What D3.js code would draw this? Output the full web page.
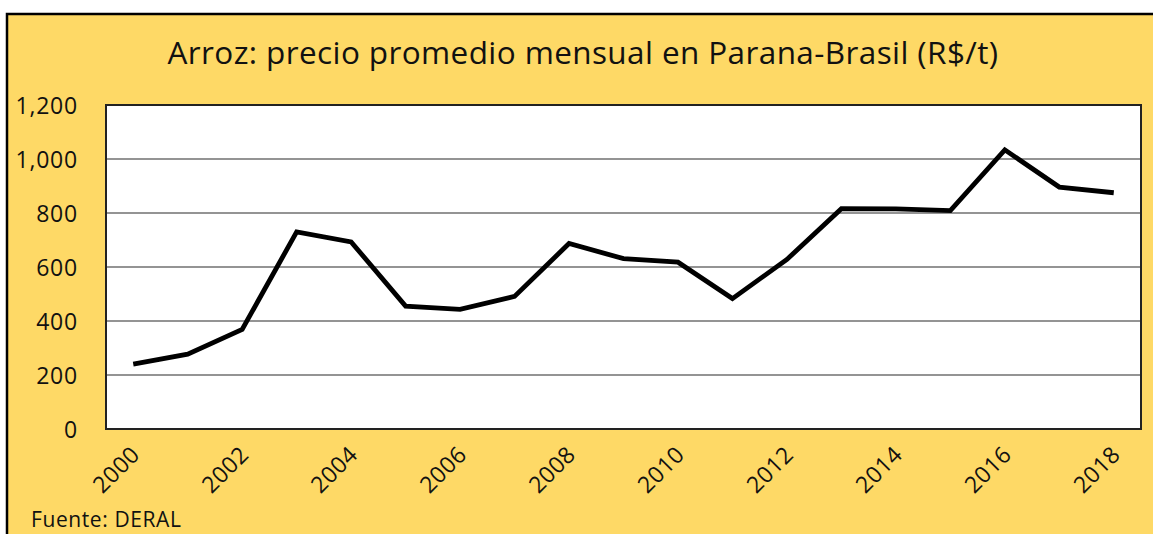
<!DOCTYPE html>
<html><head><meta charset="utf-8">
<script src="https://cdn.jsdelivr.net/npm/d3@7"></script>
<style>html,body{margin:0;padding:0;background:#fff;overflow:hidden}</style>
</head><body><svg id="c" width="1153" height="534"></svg>
<script>
const years = [2000,2001,2002,2003,2004,2005,2006,2007,2008,2009,2010,2011,2012,2013,2014,2015,2016,2017,2018];
const prices = [240,277,369,730,693,455,443,491,687,631,618,483,628,816,815,809,1034,896,875];
const yTicks = [0,200,400,600,800,1000,1200];
const xTickYears = [2000,2002,2004,2006,2008,2010,2012,2014,2016,2018];
const title = "Arroz: precio promedio mensual en Parana-Brasil (R$/t)";
const source = "Fuente: DERAL";

const svg = d3.select("#c");
const font = "'Open Sans', sans-serif";
svg.append("rect").attr("x",7).attr("y",14).attr("width",1160).attr("height",540)
  .attr("fill","#FED966").attr("stroke","#000").attr("stroke-width",2.5);

const L=106, T=105, R=1141, B=429;
const x = d3.scaleBand().domain(years).range([L,R]);
const y = d3.scaleLinear().domain([0,1200]).range([B,T]);

svg.append("rect").attr("x",L).attr("y",T).attr("width",R-L).attr("height",B-T).attr("fill","#fff");

svg.append("g").selectAll("line").data(yTicks.filter(d=>d>0&&d<1200)).join("line")
  .attr("x1",L).attr("x2",R).attr("y1",d=>y(d)).attr("y2",d=>y(d))
  .attr("stroke","#707070").attr("stroke-width",1.5);

svg.append("rect").attr("x",L).attr("y",T).attr("width",R-L).attr("height",B-T)
  .attr("fill","none").attr("stroke","#222").attr("stroke-width",2);

const yAxis = d3.axisLeft(y).tickValues(yTicks).tickFormat(d3.format(",")).tickSize(0).tickPadding(0);
const ga = svg.append("g").attr("transform",`translate(78,0)`).call(yAxis);
ga.select(".domain").remove();
ga.selectAll("text").attr("font-family",font).attr("font-size",23).attr("fill","#111")
  .attr("letter-spacing","0.8px").attr("dy","0.36em");

const line = d3.line().x((d,i)=>x(years[i])+x.bandwidth()/2).y(d=>y(d));
svg.append("path").datum(prices).attr("d",line).attr("fill","none")
  .attr("stroke","#000").attr("stroke-width",4.8).attr("stroke-linejoin","miter");

const xAxis = d3.axisBottom(x).tickValues(xTickYears).tickSize(0).tickPadding(0);
const gx = svg.append("g").attr("transform",`translate(0,${B})`).call(xAxis);
gx.select(".domain").remove();
gx.selectAll("text").attr("font-family",font).attr("font-size",23).attr("fill","#111")
  .attr("letter-spacing","0.5px").attr("text-anchor","end").attr("dy",0).attr("y",0)
  .attr("transform","translate(8,27) rotate(-45)");

const t = svg.append("text").attr("x",583).attr("y",64).attr("text-anchor","middle")
  .attr("font-family",font).attr("font-size",27).attr("fill","#111").attr("letter-spacing","0.4px").text(title);
const w = t.node().getComputedTextLength();
t.attr("font-size",27*835/w);

svg.append("text").attr("x",31).attr("y",527).attr("font-family",font).attr("font-size",21)
  .attr("letter-spacing","0.6px").attr("fill","#111").text(source);
</script></body></html>
